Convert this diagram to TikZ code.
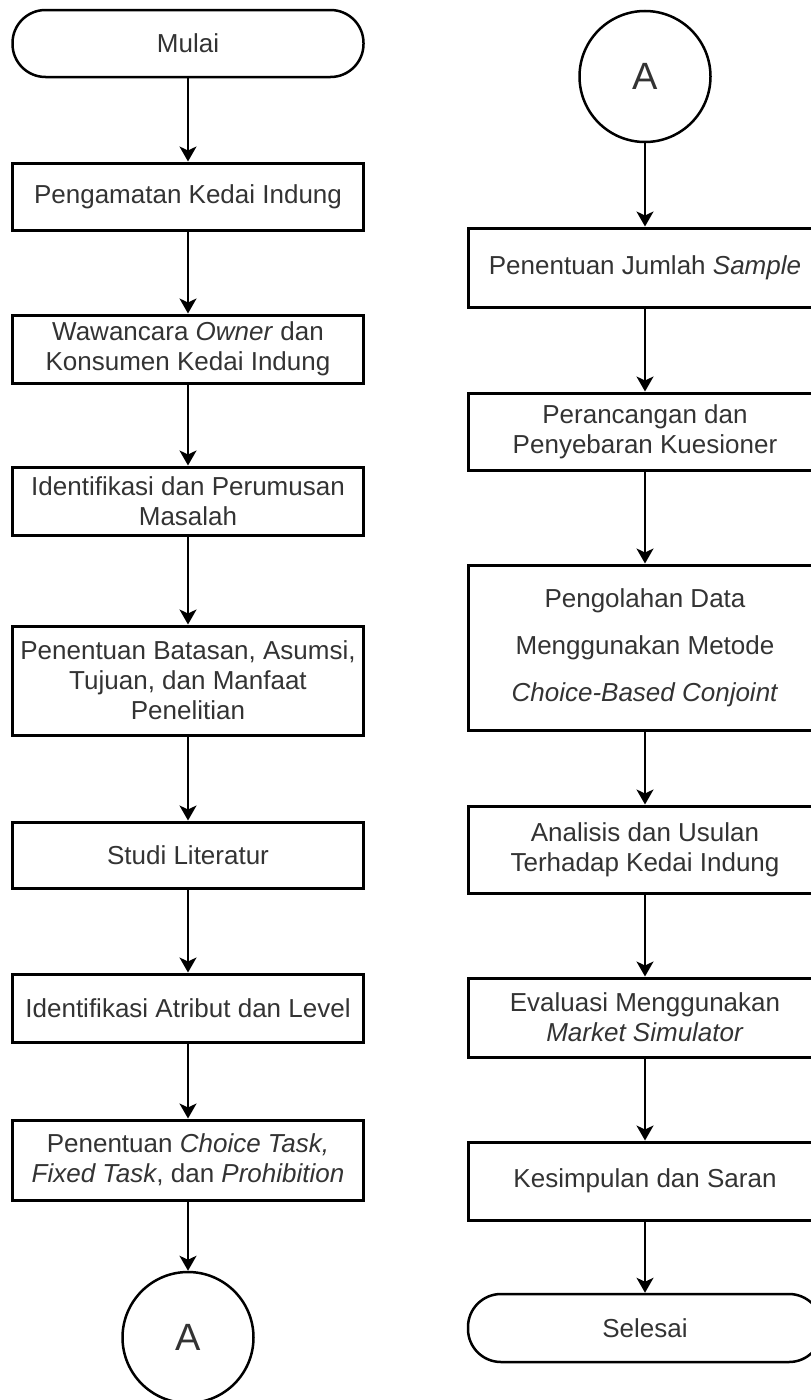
\documentclass[tikz,border=0pt]{standalone}
\usepackage{fontspec}
\setmainfont{Liberation Sans}
\usepackage{tikz}
\usetikzlibrary{arrows.meta}

\begin{document}
\begin{tikzpicture}[x=1pt, y=-1pt,
    proses/.style={draw, line width=3pt, minimum width=351pt, inner sep=2pt, align=center, text=black!80, font=\fontsize{26}{30}\selectfont},
    ujung/.style={draw, line width=2.5pt, minimum width=351pt, minimum height=67pt, rounded corners=33pt, text=black!80, font=\fontsize{26}{30}\selectfont},
    konektor/.style={draw, circle, line width=2.5pt, minimum size=131pt, inner sep=0pt, text=black!80, font=\fontsize{38}{40}\selectfont},
    panah/.style={-{Stealth[length=15pt, width=17pt, inset=4pt]}, line width=2pt}]
            \useasboundingbox (0, 0) rectangle (811, 1400);
            \clip (0, 0) rectangle (811, 1400);
            % kolom kiri
            \node[ujung] (mulai) at (188, 43.5) {Mulai};
            \node[proses, minimum height=67pt] (amati) at (188, 196.5) {Pengamatan Kedai Indung};
            \node[proses, minimum height=68pt] (wawancara) at (188, 349) {Wawancara \textit{Owner} dan\\Konsumen Kedai Indung};
            \node[proses, minimum height=68pt] (masalah) at (188, 501) {Identifikasi dan Perumusan\\Masalah};
            \node[proses, minimum height=109pt] (batasan) at (188, 680.5) {Penentuan Batasan, Asumsi,\\Tujuan, dan Manfaat\\Penelitian};
            \node[proses, minimum height=66pt] (studi) at (188, 855) {Studi Literatur};
            \node[proses, minimum height=68pt] (atribut) at (188, 1008) {Identifikasi Atribut dan Level};
            \node[proses, minimum height=80pt] (task) at (188, 1160) {Penentuan \textit{Choice Task,}\\\textit{Fixed Task}, dan \textit{Prohibition}};
            \node[konektor] (a1) at (188, 1337.5) {A};
            % kolom kanan
            \node[konektor] (a2) at (645, 76.5) {A};
            \node[proses, minimum width=354pt, minimum height=79pt] (sampel) at (645, 267.5) {Penentuan Jumlah \textit{Sample}};
            \node[proses, minimum width=354pt, minimum height=77pt] (kuesioner) at (645, 431.5) {Perancangan dan\\Penyebaran Kuesioner};
            \node[proses, minimum width=354pt, minimum height=165pt, font=\fontsize{26}{47}\selectfont] (olah) at (645, 647.5) {Pengolahan Data\\Menggunakan Metode\\\textit{Choice-Based Conjoint}};
            \node[proses, minimum width=354pt, minimum height=87pt] (analisis) at (645, 849.5) {Analisis dan Usulan\\Terhadap Kedai Indung};
            \node[proses, minimum width=354pt, minimum height=79pt] (evaluasi) at (645, 1017.5) {Evaluasi Menggunakan\\\textit{Market Simulator}};
            \node[proses, minimum width=354pt, minimum height=78pt] (simpulan) at (645, 1181) {Kesimpulan dan Saran};
            \node[ujung, minimum width=354pt, minimum height=68pt] (selesai) at (645, 1328) {Selesai};
            % panah
            \draw[panah] (mulai) -- (amati);
            \draw[panah] (amati) -- (wawancara);
            \draw[panah] (wawancara) -- (masalah);
            \draw[panah] (masalah) -- (batasan);
            \draw[panah] (batasan) -- (studi);
            \draw[panah] (studi) -- (atribut);
            \draw[panah] (atribut) -- (task);
            \draw[panah] (task) -- (a1);
            \draw[panah] (a2) -- (sampel);
            \draw[panah] (sampel) -- (kuesioner);
            \draw[panah] (kuesioner) -- (olah);
            \draw[panah] (olah) -- (analisis);
            \draw[panah] (analisis) -- (evaluasi);
            \draw[panah] (evaluasi) -- (simpulan);
            \draw[panah] (simpulan) -- (selesai);
        \end{tikzpicture}
\end{document}
